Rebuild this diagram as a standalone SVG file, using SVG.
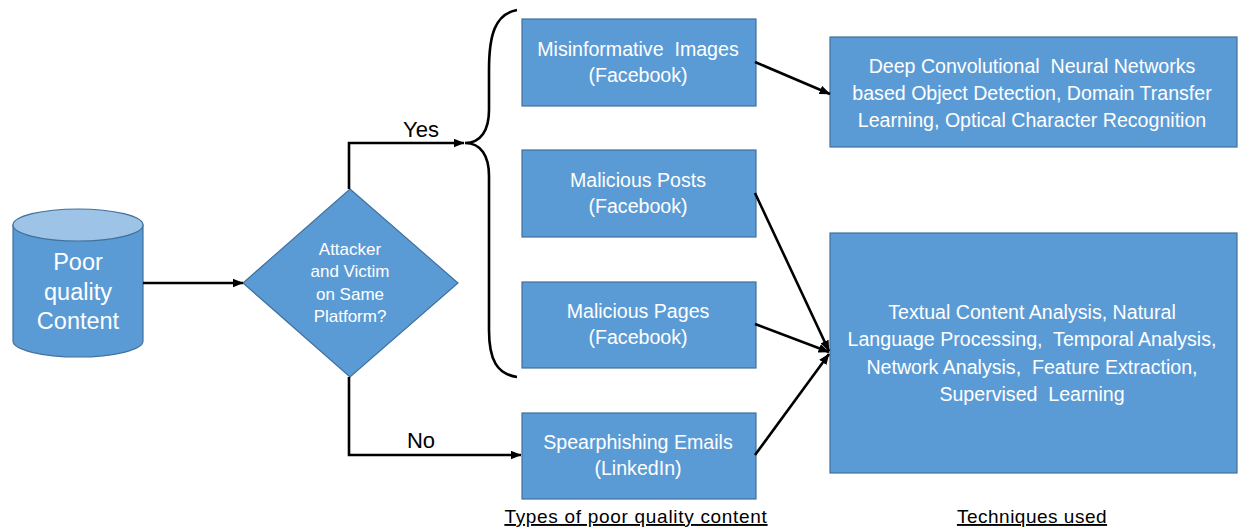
<svg xmlns="http://www.w3.org/2000/svg" width="1238" height="529" viewBox="0 0 1238 529">
  <style>
    .box { fill: #5B9BD5; stroke: #41719C; stroke-width: 1.2; }
    .lbl { font-family: "Liberation Sans", Arial, sans-serif; fill: #FFFFFF; text-anchor: middle; white-space: pre; }
    .t18 { font-size: 19.6px; }
    .dark { font-family: "Liberation Sans", Arial, sans-serif; fill: #000000; text-anchor: middle; }
    .conn { fill: none; stroke: #000000; stroke-width: 2.6; }
  </style>
  <defs>
    <marker id="arrow" viewBox="0 0 10 8" refX="9.5" refY="4" markerWidth="11" markerHeight="9" markerUnits="userSpaceOnUse" orient="auto">
      <path d="M0,0 L10,4 L0,8 Z" fill="#000000"/>
    </marker>
  </defs>

  <rect width="1238" height="529" fill="#FFFFFF"/>

  <!-- source store -->
  <g id="poor-quality-content">
    <path class="box" d="M13,225 L13,341 A65,16 0 0 0 143,341 L143,225 Z"/>
    <ellipse cx="78" cy="225" rx="65" ry="16" fill="#9DC3E6" stroke="#41719C" stroke-width="1.2"/>
    <text class="lbl" font-size="23.5" x="78" y="270">Poor</text>
    <text class="lbl" font-size="23.5" x="78" y="300">quality</text>
    <text class="lbl" font-size="23.5" x="78" y="329">Content</text>
  </g>

  <!-- decision -->
  <g id="same-platform">
    <path class="box" d="M350,189 L458,283 L350,377 L243,283 Z"/>
    <text class="lbl" font-size="17" x="350" y="255">Attacker</text>
    <text class="lbl" font-size="17" x="350" y="277">and Victim</text>
    <text class="lbl" font-size="17" x="350" y="300">on Same</text>
    <text class="lbl" font-size="17" x="350" y="322">Platform?</text>
  </g>

  <!-- content types -->
  <g id="misinformative-images">
    <rect class="box" x="522" y="19" width="234" height="87"/>
    <text class="lbl t18" x="638" y="56" xml:space="preserve">Misinformative  Images</text>
    <text class="lbl t18" x="638" y="82">(Facebook)</text>
  </g>
  <g id="malicious-posts">
    <rect class="box" x="522" y="150" width="234" height="87"/>
    <text class="lbl t18" x="638" y="187">Malicious Posts</text>
    <text class="lbl t18" x="638" y="213">(Facebook)</text>
  </g>
  <g id="malicious-pages">
    <rect class="box" x="522" y="282" width="234" height="86"/>
    <text class="lbl t18" x="638" y="318">Malicious Pages</text>
    <text class="lbl t18" x="638" y="344">(Facebook)</text>
  </g>
  <g id="spearphishing-emails">
    <rect class="box" x="522" y="413" width="234" height="86"/>
    <text class="lbl t18" x="638" y="449">Spearphishing Emails</text>
    <text class="lbl t18" x="638" y="475">(LinkedIn)</text>
  </g>

  <!-- techniques -->
  <g id="image-techniques">
    <rect class="box" x="830" y="37" width="407" height="110"/>
    <text class="lbl t18" x="1032" y="73" xml:space="preserve">Deep Convolutional  Neural Networks</text>
    <text class="lbl t18" x="1032" y="100">based Object Detection, Domain Transfer</text>
    <text class="lbl t18" x="1032" y="127">Learning, Optical Character Recognition</text>
  </g>
  <g id="text-techniques">
    <rect class="box" x="830" y="233" width="407" height="240"/>
    <text class="lbl t18" x="1032" y="319">Textual Content Analysis, Natural</text>
    <text class="lbl t18" x="1032" y="346" xml:space="preserve">Language Processing,  Temporal Analysis,</text>
    <text class="lbl t18" x="1032" y="374" xml:space="preserve">Network Analysis,  Feature Extraction,</text>
    <text class="lbl t18" x="1032" y="401" xml:space="preserve">Supervised  Learning</text>
  </g>

  <!-- connectors -->
  <g id="connectors">
    <path class="conn" d="M143,283 L243,283" marker-end="url(#arrow)"/>
    <path class="conn" d="M349,189 L349,143 L464,143" marker-end="url(#arrow)"/>
    <path class="conn" d="M349,377 L349,455 L521,455" marker-end="url(#arrow)"/>
    <!-- curly brace grouping the same-platform types -->
    <path class="conn" d="M517,10 C495,14 489,35 489,70 L489,110 C489,130 481,143 465,143 C481,143 489,156 489,176 L489,330 C489,360 497,374 517,377"/>
    <path class="conn" d="M755,62 L830,94" marker-end="url(#arrow)"/>
    <path class="conn" d="M755,193 L829,351" marker-end="url(#arrow)"/>
    <path class="conn" d="M755,324 L829,352" marker-end="url(#arrow)"/>
    <path class="conn" d="M755,455 L829,354" marker-end="url(#arrow)"/>
  </g>

  <!-- branch labels -->
  <text class="dark" font-size="22" x="421" y="137">Yes</text>
  <text class="dark" font-size="22" x="421" y="448">No</text>

  <!-- column captions -->
  <text class="dark" font-size="19" letter-spacing="0.7" x="636" y="523" text-decoration="underline">Types of poor quality content</text>
  <text class="dark" font-size="19" letter-spacing="0.5" x="1032" y="523" text-decoration="underline">Techniques used</text>
</svg>
